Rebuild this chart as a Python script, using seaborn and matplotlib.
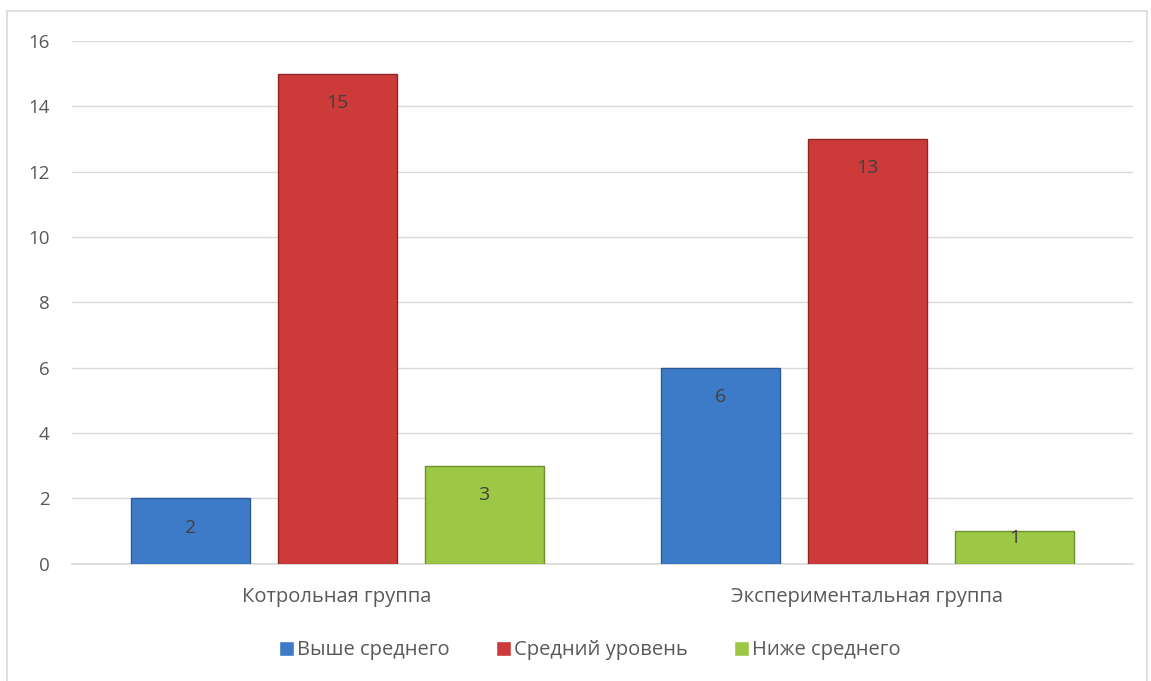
import numpy as np
import pandas as pd
import matplotlib
matplotlib.use("Agg")
import matplotlib.pyplot as plt
import seaborn as sns
from matplotlib.patches import Rectangle

# Data
groups = ["Котрольная группа", "Экспериментальная группа"]
levels = ["Выше среднего", "Средний уровень", "Ниже среднего"]
above_avg = [2, 6]
average = [15, 13]
below_avg = [3, 1]

colors = ["#3D7BC9", "#CC3B39", "#9DC846"]
edges = ["#2B5C99", "#8E2624", "#6E8F2C"]

rows = []
for i, g in enumerate(groups):
    rows.append((g, levels[0], above_avg[i]))
    rows.append((g, levels[1], average[i]))
    rows.append((g, levels[2], below_avg[i]))
df = pd.DataFrame(rows, columns=["group", "level", "value"])

sns.set_style("white")
plt.rcParams["font.family"] = ["Open Sans", "DejaVu Sans"]

fig = plt.figure(figsize=(11.51, 6.81), dpi=100)
ax = fig.add_axes([0.0626, 0.172, 0.9214, 0.768])

# outer frame
fig.patches.append(Rectangle((7 / 1151, -0.05), 1140 / 1151, 1.05 - 11 / 681,
                             transform=fig.transFigure, fill=False,
                             edgecolor="#D9D9D9", linewidth=1.2, zorder=0))

sns.barplot(data=df, x="group", y="value", hue="level", hue_order=levels,
            palette=colors, width=0.831, gap=0.19, ax=ax, legend=True,
            saturation=1, zorder=3)

# colour edges per level
for cont, ec in zip(ax.containers, edges):
    for p in cont:
        p.set_edgecolor(ec)
        p.set_linewidth(1.0)

# value labels inside bar tops
for cont in ax.containers:
    for p in cont:
        v = p.get_height()
        y = v - 0.9 if v > 1.5 else v * 0.8
        ax.text(p.get_x() + p.get_width() / 2, y, f"{int(v)}",
                ha="center", va="center", fontsize=14, color="#404040", zorder=5)

ax.set_ylim(0, 16)
ax.set_yticks(range(0, 17, 2))
ax.grid(axis="y", color="#D9D9D9", linewidth=1.0, zorder=0)
ax.set_axisbelow(True)
for s in ["top", "right", "left"]:
    ax.spines[s].set_visible(False)
ax.spines["bottom"].set_color("#D9D9D9")
ax.spines["bottom"].set_linewidth(1.2)
ax.tick_params(axis="y", length=0, labelsize=13.5, labelcolor="#595959", pad=16)
ax.tick_params(axis="x", length=0, labelsize=14.5, labelcolor="#595959", pad=17)
ax.set_xlabel("")
ax.set_ylabel("")

handles, labels = ax.get_legend_handles_labels()
ax.legend(handles, labels, loc="center", bbox_to_anchor=(0.488, -0.165),
          ncol=3, frameon=False, fontsize=14.5, handlelength=0.75,
          handleheight=0.75, handletextpad=0.15, columnspacing=2.3,
          labelcolor="#595959")

fig.savefig("out.png", dpi=100)
